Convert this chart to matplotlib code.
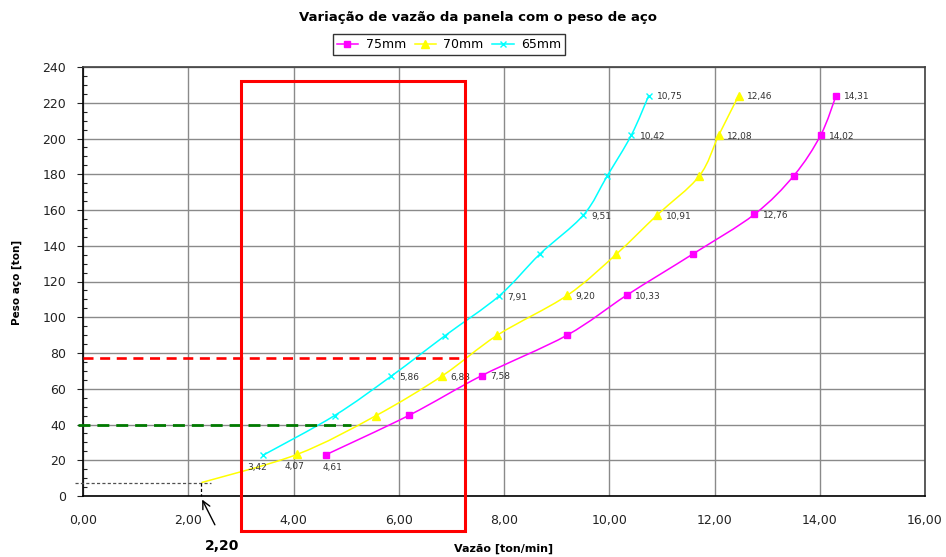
import matplotlib
matplotlib.use('Agg')
import matplotlib.pyplot as plt
from matplotlib.path import Path
from matplotlib.patches import PathPatch, Rectangle
from matplotlib.lines import Line2D
import numpy as np

# ---------------- data ----------------
title = 'Variação de vazão da panela com o peso de aço'
x_label = 'Vazão [ton/min]'
y_label = 'Peso aço [ton]'
series_names = ['75mm', '70mm', '65mm']

x_75 = [4.61, 6.20, 7.58, 9.20, 10.33, 11.59, 12.76, 13.51, 14.02, 14.31]
y_75 = [23.0, 45.2, 67.4, 90.0, 112.3, 135.4, 157.6, 179.3, 202.0, 224.0]
x_70 = [2.25, 4.07, 5.57, 6.83, 7.87, 9.20, 10.13, 10.91, 11.71, 12.08, 12.46]
y_70 = [7.5, 23.3, 45.0, 67.3, 89.9, 112.2, 135.2, 157.2, 179.0, 201.8, 224.0]
x_65 = [3.42, 4.78, 5.86, 6.88, 7.91, 8.68, 9.51, 9.96, 10.42, 10.75]
y_65 = [22.8, 45.0, 67.1, 89.7, 112.0, 135.3, 157.2, 179.0, 201.9, 224.0]

labeled_75 = [0, 2, 4, 6, 8, 9]
labeled_70 = [1, 3, 5, 7, 9, 10]
labeled_65 = [0, 2, 4, 6, 8, 9]
first_marker_70 = 1  # start point of 70mm has no marker

x_ticks = [0, 2, 4, 6, 8, 10, 12, 14, 16]
x_tick_labels = ['0,00', '2,00', '4,00', '6,00', '8,00', '10,00', '12,00', '14,00', '16,00']
y_ticks = [0, 20, 40, 60, 80, 100, 120, 140, 160, 180, 200, 220, 240]

# annotations
rect_x = [3.0, 7.25]
rect_y = [-19.4, 232.0]
red_level = 77.0
green_level = 39.5
green_end = 5.1
start_label = '2,20'

# ---------------- helpers ----------------
def smooth_path(xs, ys):
    pts = np.column_stack([xs, ys]).astype(float)
    n = len(pts)
    verts = [pts[0]]
    codes = [Path.MOVETO]
    for i in range(n - 1):
        p0 = pts[i - 1] if i > 0 else pts[i]
        p1 = pts[i]
        p2 = pts[i + 1]
        p3 = pts[i + 2] if i + 2 < n else pts[i + 1]
        c1 = p1 + (p2 - p0) / 6.0
        c2 = p2 - (p3 - p1) / 6.0
        verts += [c1, c2, p2]
        codes += [Path.CURVE4] * 3
    return Path(verts, codes)

def fmt(v):
    return f'{v:.2f}'.replace('.', ',')

# ---------------- figure ----------------
fig = plt.figure(figsize=(9.46, 5.57), dpi=100)
ax = fig.add_axes([83 / 946, 1 - 496 / 557, (925 - 83) / 946, (496 - 67) / 557])
ax.set_xlim(0, 16)
ax.set_ylim(0, 240)

ax.set_xticks(x_ticks)
ax.set_xticklabels(x_tick_labels)
ax.set_yticks(y_ticks)
ax.set_yticks(np.arange(0, 241, 5), minor=True)
ax.tick_params(axis='both', which='major', labelsize=9, colors='#222222', length=4, direction='out', width=0.8)
ax.tick_params(axis='x', which='major', pad=13, length=0)
ax.tick_params(axis='y', which='major', pad=8)
ax.tick_params(axis='y', which='minor', length=3, direction='in', width=0.8, color='#222222')
ax.grid(True, which='major', color='#8a8a8a', linewidth=1.0)
ax.set_axisbelow(True)
for side in ['left', 'bottom']:
    ax.spines[side].set_color('black')
    ax.spines[side].set_linewidth(1.2)
for side in ['top', 'right']:
    ax.spines[side].set_color('#404040')
    ax.spines[side].set_linewidth(1.2)

series = [
    (x_75, y_75, '#FF00FF', 's', 4.5, 0, labeled_75),
    (x_70, y_70, '#FFFF00', '^', 6, first_marker_70, labeled_70),
    (x_65, y_65, '#00FFFF', 'x', 4.5, 0, labeled_65),
]
handles = []
for (xs, ys, col, mk, ms, m0, labs), name in zip(series, series_names):
    ax.add_patch(PathPatch(smooth_path(xs, ys), fill=False, edgecolor=col, lw=1.1, zorder=3))
    ax.plot(xs[m0:], ys[m0:], linestyle='none', marker=mk, markersize=ms, color=col,
            markeredgewidth=1.0, zorder=4)
    handles.append(Line2D([], [], color=col, lw=1.1, marker=mk, markersize=ms - 0.5, markeredgewidth=1.0))
    for k, i in enumerate(labs):
        if k == 0:
            continue
        ax.annotate(fmt(xs[i]), (xs[i], ys[i]), xytext=(6, -1), textcoords='offset points',
                    ha='left', va='center', fontsize=6.5, color='#333333', zorder=6)

# first-point labels placed below
first_offsets = [(5, -9), (-2, -9), (-4, -9)]
for (xs, ys, col, mk, ms, m0, labs), off in zip(series, first_offsets):
    i = labs[0]
    ax.annotate(fmt(xs[i]), (xs[i], ys[i]), xytext=off, textcoords='offset points',
                ha='center', va='center', fontsize=6.5, color='#333333', zorder=6)

# red rectangle
ax.add_patch(Rectangle((rect_x[0], rect_y[0]), rect_x[1] - rect_x[0], rect_y[1] - rect_y[0],
                       fill=False, edgecolor='#FF0000', lw=2.2, clip_on=False, zorder=7))
# dashed reference lines
ax.plot([0.0, rect_x[1]], [red_level, red_level], color='#FF0000', lw=1.9,
        ls=(0, (3.8, 2.5)), clip_on=False, zorder=5)
ax.plot([-0.1, green_end], [green_level, green_level], color='#007A00', lw=2.0,
        ls=(0, (4.3, 2.5)), clip_on=False, zorder=5)
ax.plot([-0.15, 2.44], [y_70[0], y_70[0]], color='#505050', lw=0.9,
        ls=(0, (2.5, 1.8)), clip_on=False, zorder=5)
ax.plot([x_70[0], x_70[0]], [y_70[0], 0], color='black', lw=0.9,
        ls=(0, (2.5, 1.8)), clip_on=False, zorder=5)
ax.annotate('', xy=(x_70[0] - 0.01, -0.6), xytext=(2.53, -17.5),
            arrowprops=dict(arrowstyle='->', color='black', lw=1.0, mutation_scale=14),
            annotation_clip=False, zorder=8)
ax.text(2.64, -28.0, start_label, ha='center', va='center', fontsize=10,
        fontweight='bold', clip_on=False)

# texts
fig.text(478 / 946, 1 - 18 / 557, title, ha='center', va='center', fontsize=9.5, fontweight='bold')
fig.text(504 / 946, 1 - 549 / 557, x_label, ha='center', va='center', fontsize=8, fontweight='bold')
fig.text(17 / 946, 1 - 282 / 557, y_label, ha='center', va='center', fontsize=7.5,
         fontweight='bold', rotation=90)

leg = fig.legend(handles, series_names, loc='center', bbox_to_anchor=(449 / 946, 1 - 44.5 / 557),
                 ncol=3, fontsize=9, frameon=True, fancybox=False, handlelength=1.7,
                 columnspacing=0.7, handletextpad=0.6, borderpad=0.3, borderaxespad=0)
leg.get_frame().set_edgecolor('black')
leg.get_frame().set_linewidth(1.0)

fig.savefig('out.png', dpi=100)
